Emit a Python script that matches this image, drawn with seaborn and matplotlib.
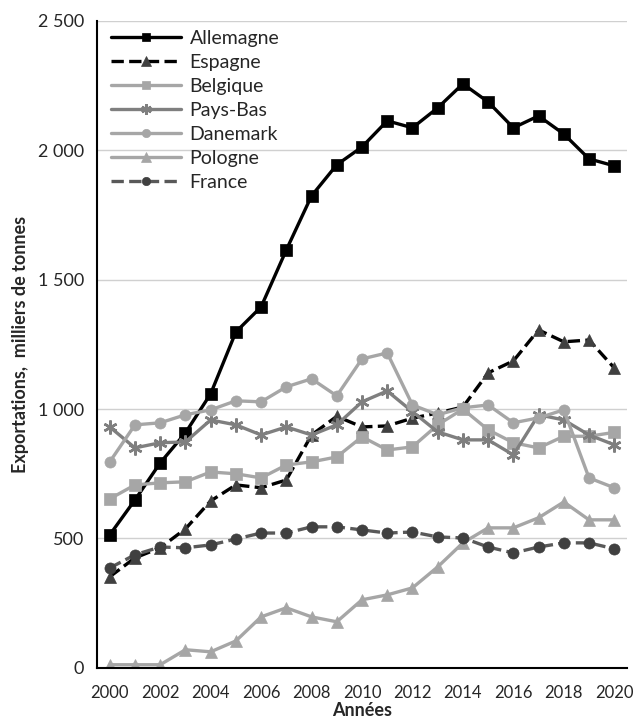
#!/usr/bin/env python3

import matplotlib.pyplot as plt
import matplotlib.ticker as mticker
import numpy as np
import pandas as pd
import seaborn as sns

years = list(range(2000, 2021))

allemagne = [514, 649, 792, 908, 1059, 1298, 1395, 1615, 1824, 1944, 2013,
             2114, 2087, 2164, 2257, 2187, 2087, 2133, 2063, 1967, 1940]
espagne = [352, 425, 464, 537, 645, 707, 696, 726, 900, 972, 931,
           935, 965, 985, 1008, 1140, 1186, 1306, 1260, 1267, 1159]
belgique = [653, 707, 715, 719, 757, 750, 734, 784, 796, 815, 893,
            842, 854, 939, 1000, 920, 870, 850, 895, 895, 910]
pays_bas = [931, 850, 870, 873, 958, 939, 900, 931, 900, 939, 1028,
            1070, 990, 912, 881, 881, 823, 978, 958, 900, 862]
danemark = [796, 939, 947, 978, 997, 1032, 1028, 1086, 1117, 1051, 1194,
            1217, 1016, 978, 1005, 1016, 947, 966, 997, 734, 696]
pologne = [12, 12, 12, 70, 62, 104, 197, 232, 197, 178, 263,
           282, 309, 390, 483, 541, 541, 580, 641, 572, 572]
france = [386, 437, 467, 464, 475, 498, 521, 521, 545, 545, 533,
          521, 525, 506, 502, 467, 444, 467, 483, 483, 460]

series = [
    ("Allemagne", allemagne, "#000000", "#000000", "s", "-"),
    ("Espagne", espagne, "#000000", "#404040", "^", "--"),
    ("Belgique", belgique, "#a6a6a6", "#a6a6a6", "s", "-"),
    ("Pays-Bas", pays_bas, "#7f7f7f", "#7f7f7f", (6, 2, 0), "-"),
    ("Danemark", danemark, "#a6a6a6", "#a6a6a6", "o", "-"),
    ("Pologne", pologne, "#a6a6a6", "#a6a6a6", "^", "-"),
    ("France", france, "#595959", "#404040", "o", "--"),
]

sns.set_style("white")
plt.rcParams["font.family"] = ["Lato", "DejaVu Sans"]

fig = plt.figure(figsize=(6.39, 7.22), dpi=100)
ax = fig.add_axes([0.152, 0.075, 0.829, 0.896])

for name, values, lc, mc, marker, ls in series:
    df = pd.DataFrame({"year": years, "value": values})
    star = marker == (6, 2, 0)
    sns.lineplot(
        data=df, x="year", y="value", ax=ax, label=name,
        color=lc, linestyle=ls, linewidth=2.4,
        marker=marker, markersize=10 if star else (9 if marker == "^" else 8),
        markerfacecolor=mc, markeredgecolor=mc,
        markeredgewidth=1.8 if star else 0.5,
    )

ax.set_xlim(1999.5, 2020.5)
ax.set_ylim(0, 2500)
ax.yaxis.set_major_locator(mticker.MultipleLocator(500))
ax.yaxis.set_major_formatter(
    mticker.FuncFormatter(lambda v, p: f"{int(v):,}".replace(",", " "))
)
ax.grid(axis="y", color="#d0d0d0", linewidth=1)
ax.set_axisbelow(True)

ax.set_xticks(years[::2])
ax.set_xticks(np.arange(1999.5, 2021.0, 1.0), minor=True)
ax.tick_params(axis="x", which="major", length=0, labelsize=12, pad=12)
ax.tick_params(axis="x", which="minor", length=6, width=1.5,
               direction="out", color="black")
ax.tick_params(axis="y", which="major", length=6, width=1.5,
               direction="out", color="black", labelsize=13)

for side in ["top", "right"]:
    ax.spines[side].set_visible(False)
for side in ["left", "bottom"]:
    ax.spines[side].set_color("black")
    ax.spines[side].set_linewidth(1.5)

ax.set_xlabel("Années", fontsize=13, fontweight="bold", labelpad=1)
ax.set_ylabel("Exportations,  milliers de tonnes", fontsize=13,
              fontweight="bold", labelpad=6)

ax.legend(loc="upper left", bbox_to_anchor=(0.0, 1.007), frameon=False,
          fontsize=14, handlelength=3.6, labelspacing=0.36,
          handletextpad=0.45, borderaxespad=0.3, markerscale=0.75)

fig.savefig("out.png", dpi=100)
plt.close(fig)
